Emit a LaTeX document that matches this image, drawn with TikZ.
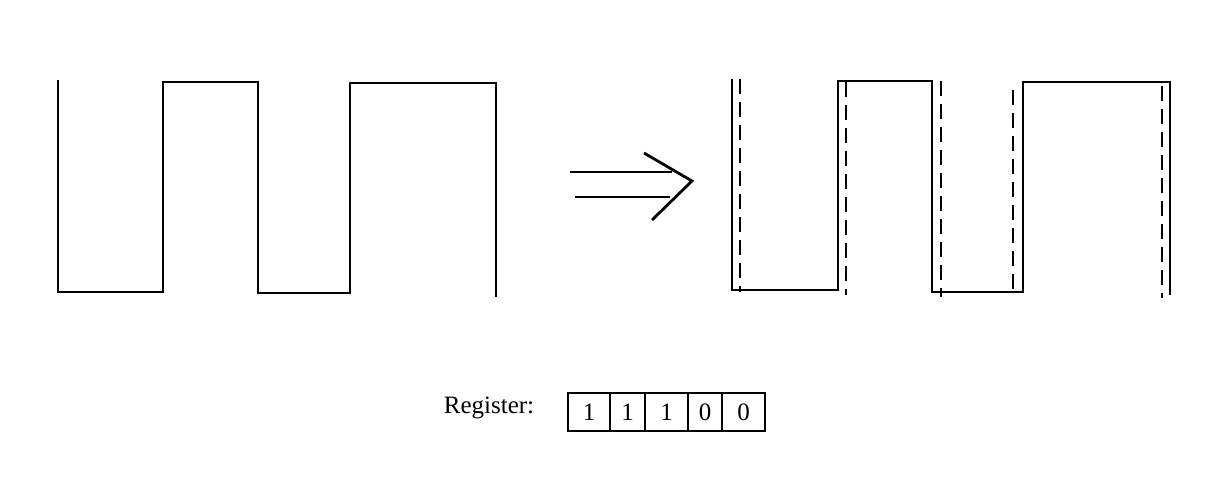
\documentclass[tikz,border=0pt]{standalone}
\usepackage{fontspec}
\setmainfont{Liberation Serif}
\begin{document}
\begin{tikzpicture}[x=1pt, y=-1pt, line width=2.8pt, line join=miter, font=\fontsize{25}{30}\selectfont,
 regbox/.style={draw, line width=1.8pt, minimum height=38pt, inner sep=0pt},
 sampleline/.style={dash pattern=on 15pt off 8pt}]
 \useasboundingbox (0,0) rectangle (1211,484);
 % original signal
 \draw (58,80)--(58,292)--(163,292)--(163,82)--(258,82)--(258,293)--(350,293)--(350,83)--(496,83)--(496,297);
 % arrow
 \draw (570,172)--(672,172);
 \draw (575,197)--(670,197);
 \draw (644,153)--(692,181)--(652,220);
 % sampled signal
 \draw (732,79)--(732,290)--(838,290)--(838,81)--(932,81)--(932,292)--(1023,292)--(1023,82)--(1170,82)--(1170,295);
 \foreach \x/\ya/\yb in {740/79/292, 846/82/295, 941/81/297, 1013/90/290, 1162/86/298}
   \draw[sampleline] (\x,\ya)--(\x,\yb);
 % register
 \node (reg) at (489,408) {Register:};
 \foreach \i/\a/\b/\v/\dy in {1/568/610/1/0, 2/610/645/1/3, 3/645/688/1/0, 4/688/722/0/0, 5/722/765/0/0}
   \node[regbox, minimum width=\b-\a] (r\i) at ({(\a+\b)/2},412) {\raisebox{-\dy pt}{\v}};
\end{tikzpicture}
\end{document}
